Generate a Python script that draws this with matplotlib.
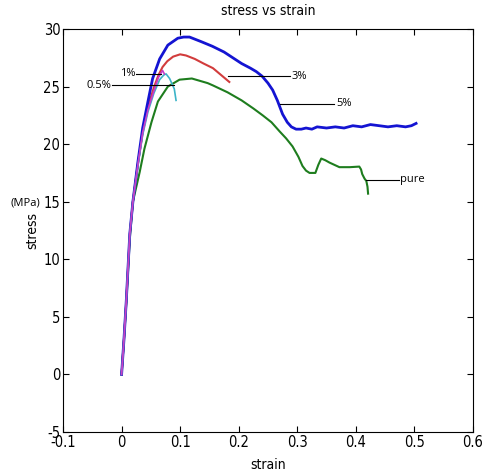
import matplotlib
matplotlib.use("Agg")
import matplotlib.pyplot as plt
from matplotlib import font_manager
from matplotlib.font_manager import FontProperties

# pick a narrow font for MATLAB-like tick labels if one is installed
narrow_path = None
for f in font_manager.fontManager.ttflist:
    if "Narrow" in f.name or ("DejaVu Sans" == f.name and f.stretch == "condensed" and f.style == "normal" and f.weight in (400, "normal")):
        narrow_path = f.fname
        break
if narrow_path:
    tick_fp = FontProperties(fname=narrow_path, size=10.5)
    lab_fp = FontProperties(fname=narrow_path, size=10)
else:
    tick_fp = FontProperties(family="DejaVu Sans", size=10)
    lab_fp = FontProperties(family="DejaVu Sans", size=9.5)
note_font = "Open Sans"

# 5% curve (blue)
x5 = [0, 0.004, 0.008, 0.014, 0.0193, 0.028, 0.036, 0.045, 0.053, 0.065, 0.079, 0.096, 0.106, 0.116,
      0.136, 0.155, 0.175, 0.19, 0.205, 0.22, 0.23, 0.24, 0.25, 0.258, 0.266, 0.275, 0.283, 0.29,
      0.298, 0.307, 0.315, 0.325, 0.334, 0.35, 0.365, 0.38, 0.395, 0.41, 0.425, 0.44, 0.455, 0.47,
      0.485, 0.495, 0.503]
y5 = [0, 3, 6.4, 12.2, 15.0, 18.5, 21.4, 23.7, 25.7, 27.4, 28.6, 29.2, 29.3, 29.3,
      28.9, 28.5, 28.0, 27.5, 27.0, 26.6, 26.3, 25.9, 25.3, 24.7, 23.8, 22.6, 21.9, 21.5,
      21.3, 21.3, 21.4, 21.3, 21.5, 21.4, 21.5, 21.4, 21.6, 21.5, 21.7, 21.6, 21.5, 21.6,
      21.5, 21.6, 21.8]

# 3% curve (red)
x3 = [0, 0.004, 0.008, 0.014, 0.0193, 0.028, 0.036, 0.045, 0.055, 0.063, 0.07, 0.078, 0.088, 0.1,
      0.11, 0.125, 0.14, 0.156, 0.17, 0.184]
y3 = [0, 3, 6.4, 12.2, 15.0, 18.4, 21.0, 23.2, 24.9, 26.0, 26.7, 27.2, 27.6, 27.8,
      27.7, 27.4, 27.0, 26.6, 26.0, 25.4]

# 1% curve (magenta)
x1 = [0, 0.004, 0.008, 0.014, 0.0193, 0.028, 0.036, 0.045, 0.055, 0.063, 0.07, 0.073]
y1 = [0, 3, 6.4, 12.2, 15.0, 18.3, 21.0, 23.0, 24.6, 25.8, 26.4, 26.1]

# 0.5% curve (cyan)
x05 = [0, 0.004, 0.008, 0.014, 0.0193, 0.028, 0.036, 0.045, 0.055, 0.065, 0.072, 0.076, 0.082, 0.09, 0.093]
y05 = [0, 3, 6.4, 12.2, 15.0, 18.2, 20.8, 22.8, 24.4, 25.6, 26.0, 26.1, 25.7, 24.8, 23.8]

# pure curve (green)
xp = [0, 0.004, 0.008, 0.014, 0.0193, 0.031, 0.039, 0.051, 0.062, 0.079, 0.099, 0.12, 0.147, 0.156,
      0.181, 0.205, 0.225, 0.241, 0.256, 0.27, 0.281, 0.292, 0.302, 0.309, 0.315, 0.321, 0.331,
      0.336, 0.341, 0.348, 0.355, 0.372, 0.39, 0.406, 0.409, 0.411, 0.415, 0.418, 0.42, 0.421]
yp = [0, 3, 6.2, 11.8, 15.0, 17.6, 19.6, 21.9, 23.7, 25.0, 25.6, 25.7, 25.3, 25.1,
      24.5, 23.8, 23.1, 22.5, 21.9, 21.1, 20.5, 19.8, 18.9, 18.1, 17.7, 17.5, 17.5,
      18.2, 18.75, 18.6, 18.4, 18.0, 18.0, 18.05, 17.8, 17.4, 17.0, 16.8, 16.3, 15.7]

labels = ["1%", "0.5%", "3%", "5%", "pure"]
xticks = [-0.1, 0, 0.1, 0.2, 0.3, 0.4, 0.5, 0.6]
yticks = [-5, 0, 5, 10, 15, 20, 25, 30]

fig = plt.figure(figsize=(4.85, 4.73), dpi=100)
ax = fig.add_axes([0.13, 0.0867, 0.845, 0.852])

ax.plot(xp, yp, color="#1e7d1e", lw=1.5)
ax.plot(x3, y3, color="#d23c3c", lw=1.5)
ax.plot(x5, y5, color="#1414d2", lw=2.0)
ax.plot(x05, y05, color="#3cb4c8", lw=1.2)
ax.plot(x1, y1, color="#c83cc8", lw=1.2)

ax.set_xlim(-0.1, 0.6)
ax.set_ylim(-5, 30)
ax.set_xticks(xticks)
ax.set_yticks(yticks)
ax.set_xticklabels([f"{v:g}" for v in xticks], fontproperties=tick_fp)
ax.set_yticklabels([f"{v:g}" for v in yticks], fontproperties=tick_fp)
ax.tick_params(direction="in", top=True, right=True, length=4, width=0.8, pad=2)
for s in ax.spines.values():
    s.set_linewidth(0.8)

ax.set_title("stress vs strain", fontproperties=lab_fp, pad=10)
ax.set_xlabel("strain", fontproperties=lab_fp, labelpad=6)
ax.set_ylabel("stress", fontproperties=lab_fp, labelpad=3)
fig.text(0.021, 0.571, "(MPa)", fontname=note_font, fontsize=8, ha="left", va="center")

# annotation lines with labels
lines = [
    (labels[0], 0.024, 0.068, 26.1, "right"),
    (labels[1], -0.017, 0.090, 25.1, "right"),
    (labels[2], 0.181, 0.287, 25.9, "left"),
    (labels[3], 0.270, 0.363, 23.5, "left"),
    (labels[4], 0.418, 0.473, 16.9, "left"),
]
for lab, xa, xb, yy, side in lines:
    ax.plot([xa, xb], [yy, yy], color="black", lw=0.8)
    if side == "right":
        ax.text(xa - 0.001, yy, lab, ha="right", va="center", fontname=note_font, fontsize=8)
    else:
        ax.text(xb + 0.003, yy, lab, ha="left", va="center", fontname=note_font, fontsize=8)

fig.savefig("out.png", dpi=100)
